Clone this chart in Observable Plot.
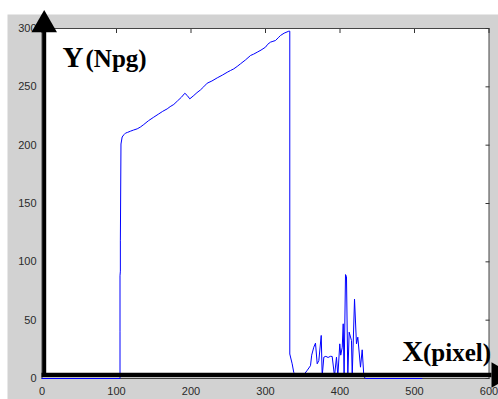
<!DOCTYPE html>
<html>
<head>
<meta charset="utf-8">
<script src="https://cdn.jsdelivr.net/npm/d3@7"></script>
<script src="https://cdn.jsdelivr.net/npm/@observablehq/plot@0.6"></script>
<style>
  html, body { margin: 0; padding: 0; background: white; }
  #chart { width: 498px; height: 399px; overflow: hidden; }
</style>
</head>
<body>
<div id="chart"></div>
<script>
// Data
const xs = [0, 104.7, 104.7, 104.7, 105.2, 105.2, 106, 107.6, 110, 112, 115, 118.8, 123, 127.8, 132, 136.6, 143, 150, 156, 162, 168, 172, 176.9, 182, 187, 191.7, 194.9, 198.4, 203.8, 208, 212.8, 217, 221.7, 228, 235.2, 242, 248.6, 253, 257.4, 262, 266.4, 273, 280, 284, 288.9, 294, 300, 303, 306.7, 310, 313.4, 317, 320.1, 325, 331.3, 332.6, 332.6, 335.8, 338, 343, 350, 356, 360.4, 362, 364.8, 367.1, 369.4, 371.6, 374.8, 376.1, 378.3, 381, 384, 387, 389.5, 392.6, 395.3, 397.1, 399.7, 401, 403, 404.3, 405.5, 407.4, 408.7, 410.5, 412.3, 415.4, 416.4, 419.5, 422.1, 423.9, 427.5, 429.8, 432, 434, 510];
const ys = [0, 0, 40, 88, 92, 118, 201, 207, 209, 210.3, 211, 212, 213, 214, 215.5, 217.7, 221, 224, 226.5, 229, 231.1, 233, 234.9, 238, 241, 244.5, 242.6, 239.7, 242.6, 245, 247.4, 250, 253.1, 255, 257.7, 260, 262.5, 264, 265.4, 267.5, 269.7, 273, 276.9, 278, 279.7, 281.5, 284, 286.5, 288.3, 289, 289.7, 292, 294, 296, 297.7, 297.7, 21, 12.6, 5, 2, 2, 7, 11, 20, 26.8, 30.3, 12.6, 15.4, 36.9, 2, 18.3, 19, 18, 19, 18.9, 2, 18.3, 2, 29.7, 20, 26.8, 46.9, 3, 89.1, 87.4, 2, 39.7, 32.6, 2, 68, 29.7, 35.4, 9.7, 24.6, 2, 0, 0];

const xDomain = [0, 600];
const yDomain = [0, 300];
const xTicks = [0, 100, 200, 300, 400, 500, 600];
const yTicks = [0, 50, 100, 150, 200, 250, 300];

const yLabelMain = "Y";
const yLabelUnit = "(Npg)";
const xLabelMain = "X";
const xLabelUnit = "(pixel)";

const serif = "'Liberation Serif', 'Times New Roman', serif";

const chart = Plot.plot({
  width: 498,
  height: 399,
  marginLeft: 41.5,
  marginRight: 9.5,
  marginTop: 28,
  marginBottom: 21,
  style: {
    background: "white",
    fontFamily: "'Liberation Sans', Arial, sans-serif",
    fontSize: "11px",
    color: "#333",
    overflow: "visible"
  },
  x: {domain: xDomain},
  y: {domain: yDomain},
  marks: [
    // grey figure background
    Plot.frame({fill: "#d2d2d2", stroke: null, insetTop: -14, insetLeft: -34.5, insetRight: -9.5, insetBottom: -21}),
    // white axes area with frame
    Plot.frame({fill: "white", stroke: "#444", strokeWidth: 1}),
    // tick labels and inward ticks
    Plot.axisY({anchor: "left", ticks: yTicks, tickSize: 0, tickPadding: 5.5, label: null, fill: "#2a2a2a", fontSize: 11}),
    Plot.axisY({anchor: "right", ticks: yTicks, tickSize: -4, tickFormat: () => "", label: null, stroke: "#333"}),
    Plot.axisX({anchor: "bottom", ticks: xTicks, tickSize: 0, tickPadding: 9, label: null, fill: "#2a2a2a", fontSize: 11}),
    Plot.axisX({anchor: "top", ticks: xTicks, tickSize: -4, tickFormat: () => "", label: null, stroke: "#333"}),
    // the data line
    Plot.line(xs, {x: xs, y: ys, stroke: "#0000ff", strokeWidth: 1, curve: "linear"}),
    // thick black axis arrows
    Plot.ruleY([yDomain[0]], {stroke: "black", strokeWidth: 4.5, dy: -3.5, insetRight: -3}),
    Plot.ruleX([xDomain[0]], {stroke: "black", strokeWidth: 4, dx: 2.2, insetTop: 3, insetBottom: 1.3}),
    Plot.dot([0], {x: xDomain[0], y: yDomain[1], dx: 2.2, dy: -3.7, symbol: "triangle", r: 9.5, fill: "black", stroke: null}),
    Plot.dot([0], {x: xDomain[1], y: yDomain[0], dx: 9.9, dy: -3.5, symbol: "triangle", r: 9.5, fill: "black", stroke: null, rotate: 90}),
    // axis titles
    Plot.text([yLabelMain], {frameAnchor: "top-left", text: d => d, dx: 20.5, dy: 38.7, textAnchor: "start", lineAnchor: "bottom", fontFamily: serif, fontWeight: "bold", fontSize: 29, fill: "black"}),
    Plot.text([yLabelUnit], {frameAnchor: "top-left", text: d => d, dx: 43.5, dy: 38.7, textAnchor: "start", lineAnchor: "bottom", fontFamily: serif, fontWeight: "bold", fontSize: 25, fill: "black"}),
    Plot.text([xLabelMain], {frameAnchor: "top-left", text: d => d, dx: 360.2, dy: 332, textAnchor: "start", lineAnchor: "bottom", fontFamily: serif, fontWeight: "bold", fontSize: 29, fill: "black"}),
    Plot.text([xLabelUnit], {frameAnchor: "top-left", text: d => d, dx: 381, dy: 332, textAnchor: "start", lineAnchor: "bottom", fontFamily: serif, fontWeight: "bold", fontSize: 25, fill: "black"})
  ]
});
document.getElementById("chart").appendChild(chart);
</script>
</body>
</html>
